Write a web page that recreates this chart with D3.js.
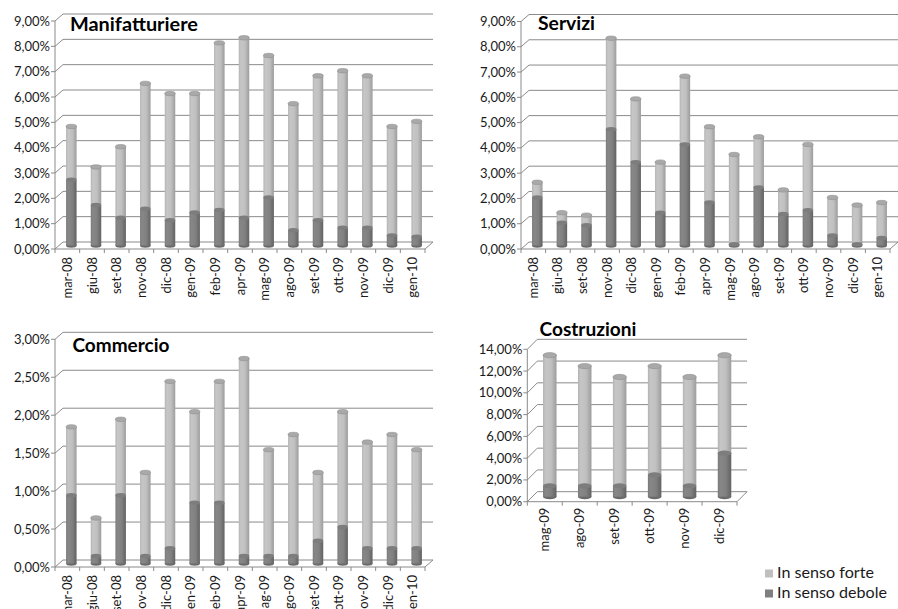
<!DOCTYPE html>
<html>
<head>
<meta charset="utf-8">
<script src="https://cdn.jsdelivr.net/npm/d3@7"></script>
<style>
  html, body { margin: 0; padding: 0; background: #ffffff; }
  svg { display: block; }
  text { font-family: Lato, "Open Sans", sans-serif; fill: #1a1a1a; }
</style>
</head>
<body>
<svg id="chart" width="898" height="609"></svg>
<script>
// ---------------- DATA ----------------
const months15 = ["mar-08","giu-08","set-08","nov-08","dic-08","gen-09","feb-09","apr-09","mag-09","ago-09","set-09","ott-09","nov-09","dic-09","gen-10"];

const manifDebole = [2.6,1.6,1.1,1.45,1.0,1.3,1.4,1.1,1.9,0.6,1.0,0.7,0.7,0.4,0.35];
const manifForte  = [2.1,1.5,2.8,4.95,5.0,4.7,6.6,7.1,5.6,5.0,5.7,6.2,6.0,4.3,4.55];
const manifTicks  = [0,1,2,3,4,5,6,7,8,9];

const serviziDebole = [1.9,0.9,0.8,4.6,3.3,1.3,4.0,1.7,0.05,2.3,1.25,1.4,0.4,0.05,0.3];
const serviziForte  = [0.6,0.4,0.4,3.6,2.5,2.0,2.7,3.0,3.55,2.0,0.95,2.6,1.5,1.55,1.4];
const serviziTicks  = [0,1,2,3,4,5,6,7,8,9];

const commDebole = [0.9,0.1,0.9,0.1,0.2,0.8,0.8,0.1,0.1,0.1,0.3,0.48,0.2,0.2,0.2];
const commForte  = [0.9,0.5,1.0,1.1,2.2,1.2,1.6,2.6,1.4,1.6,0.9,1.52,1.4,1.5,1.3];
const commTicks  = [0,0.5,1,1.5,2,2.5,3];

const costrMonths = ["mag-09","ago-09","set-09","ott-09","nov-09","dic-09"];
const costrDebole = [1,1,1,2,1,4];
const costrForte  = [12,11,10,10,10,9];
const costrTicks  = [0,2,4,6,8,10,12,14];

const seriesNames = ["In senso forte","In senso debole"];
const seriesColors = ["#bfbfbf","#7f7f7f"];

// ---------------- DRAW ----------------
const svg = d3.select("#chart");
const defs = svg.append("defs");

function grad(id, stops) {
  const g = defs.append("linearGradient").attr("id", id)
    .attr("x1","0%").attr("x2","100%").attr("y1","0%").attr("y2","0%");
  stops.forEach(s => g.append("stop").attr("offset", s[0]).attr("stop-color", s[1]));
}
grad("gLight", [["0%","#b3b3b3"],["20%","#c6c6c6"],["60%","#c0c0c0"],["78%","#b0b0b0"],["100%","#9c9c9c"]]);
grad("gDark",  [["0%","#7a7a7a"],["20%","#878787"],["60%","#808080"],["78%","#727272"],["100%","#636363"]]);

const fmt = v => d3.format(".2f")(v).replace(".", ",") + "%";
const gridColor = "#8a8a8a";

function fitText(sel, w) {
  const n = sel.node();
  const cur = n.getComputedTextLength();
  const fs = parseFloat(sel.attr("font-size"));
  sel.attr("font-size", (fs * w / cur).toFixed(2));
}

function drawChart(cfg) {
  const g = svg.append("g");
  const x = d3.scaleBand().domain(cfg.cats).range([cfg.x0, cfg.x1]).padding(0);
  const y = d3.scaleLinear().domain([0, cfg.max]).range([cfg.y0, cfg.yTop]);
  const bw = x.bandwidth();
  const dx = cfg.dx, dy = cfg.dy;

  cfg.ticks.forEach(t => {
    g.append("line").attr("x1", cfg.x0 + dx).attr("x2", cfg.x1 + dx)
      .attr("y1", y(t) - dy).attr("y2", y(t) - dy)
      .attr("stroke", gridColor).attr("stroke-width", 1);
    g.append("line").attr("x1", cfg.x0).attr("x2", cfg.x0 + dx)
      .attr("y1", y(t)).attr("y2", y(t) - dy)
      .attr("stroke", gridColor).attr("stroke-width", 1);
    g.append("line").attr("x1", cfg.x0 - 4).attr("x2", cfg.x0)
      .attr("y1", y(t)).attr("y2", y(t))
      .attr("stroke", gridColor).attr("stroke-width", 1);
    g.append("text").attr("x", cfg.x0 - 5).attr("y", y(t)).attr("dy", "0.35em")
      .attr("text-anchor", "end").attr("font-size", 13).text(fmt(t));
  });
  g.append("line").attr("x1", cfg.x0).attr("x2", cfg.x0)
    .attr("y1", y(0)).attr("y2", y(cfg.max)).attr("stroke", gridColor);
  g.append("line").attr("x1", cfg.x0).attr("x2", cfg.x1)
    .attr("y1", y(0)).attr("y2", y(0)).attr("stroke", gridColor);
  g.append("line").attr("x1", cfg.x1).attr("x2", cfg.x1 + dx)
    .attr("y1", y(0)).attr("y2", y(0) - dy).attr("stroke", gridColor);
  d3.range(cfg.cats.length + 1).forEach(i => {
    const xx = cfg.x0 + i * bw;
    g.append("line").attr("x1", xx).attr("x2", xx)
      .attr("y1", y(0)).attr("y2", y(0) + 4).attr("stroke", gridColor);
  });
  cfg.cats.forEach(c => {
    g.append("text")
      .attr("transform", `translate(${x(c) + bw / 2},${y(0) + cfg.labGap}) rotate(-90)`)
      .attr("dy", "0.35em").attr("text-anchor", "end").attr("font-size", 13).text(c);
  });

  const w = cfg.barW, ry = cfg.ry;
  cfg.cats.forEach((c, i) => {
    const cx = x(c) + bw / 2 + dx / 2;
    const base = v => y(v) - dy / 2;
    const d = cfg.debole[i], f = cfg.forte[i];
    g.append("ellipse").attr("cx", cx).attr("cy", base(0)).attr("rx", w / 2).attr("ry", ry)
      .attr("fill", "#6a6a6a");
    g.append("rect").attr("x", cx - w / 2).attr("width", w)
      .attr("y", base(d)).attr("height", Math.max(0, base(0) - base(d)))
      .attr("fill", "url(#gDark)");
    g.append("rect").attr("x", cx - w / 2).attr("width", w)
      .attr("y", base(d + f)).attr("height", Math.max(0, base(d) - base(d + f)))
      .attr("fill", "url(#gLight)");
    g.append("ellipse").attr("cx", cx).attr("cy", base(d)).attr("rx", w / 2).attr("ry", ry)
      .attr("fill", "#7d7d7d");
    g.append("ellipse").attr("cx", cx).attr("cy", base(d + f)).attr("rx", w / 2).attr("ry", ry)
      .attr("fill", "#a9a9a9").attr("stroke", "#8f8f8f").attr("stroke-width", 0.6);
  });

  const t = g.append("text").attr("x", cfg.titleX).attr("y", cfg.titleY)
    .attr("font-size", 19).attr("font-weight", "bold")
    .style("fill", "#000").text(cfg.title);
  fitText(t, cfg.titleW);
}

drawChart({ title: "Manifatturiere", titleX: 70, titleY: 31, titleW: 128,
  cats: months15, debole: manifDebole, forte: manifForte, ticks: manifTicks, max: 9,
  x0: 55, x1: 425, y0: 249, yTop: 21, dx: 8, dy: 7, barW: 10.5, ry: 2.2, labGap: 8 });

drawChart({ title: "Servizi", titleX: 538, titleY: 30, titleW: 57,
  cats: months15, debole: serviziDebole, forte: serviziForte, ticks: serviziTicks, max: 9,
  x0: 521, x1: 890, y0: 249, yTop: 21.5, dx: 8, dy: 7, barW: 10.5, ry: 2.2, labGap: 8 });

drawChart({ title: "Commercio", titleX: 72.5, titleY: 352, titleW: 97,
  cats: months15, debole: commDebole, forte: commForte, ticks: commTicks, max: 3,
  x0: 55, x1: 425, y0: 567, yTop: 339.3, dx: 8, dy: 7, barW: 10.5, ry: 2.2, labGap: 8 });

drawChart({ title: "Costruzioni", titleX: 539.5, titleY: 336, titleW: 97,
  cats: costrMonths, debole: costrDebole, forte: costrForte, ticks: costrTicks, max: 14,
  x0: 527.3, x1: 737, y0: 501.7, yTop: 349.3, dx: 10, dy: 10, barW: 13.5, ry: 2.6, labGap: 6 });

// legend
const legW = [97, 110];
const leg = svg.append("g");
seriesNames.forEach((n, i) => {
  const yy = 569.5 + i * 20;
  leg.append("rect").attr("x", 765).attr("y", yy).attr("width", 8).attr("height", 8)
    .attr("fill", seriesColors[i]);
  const t = leg.append("text").attr("x", 777).attr("y", yy + 8).attr("font-size", 14.5).text(n);
  fitText(t, legW[i]);
});
</script>
</body>
</html>
